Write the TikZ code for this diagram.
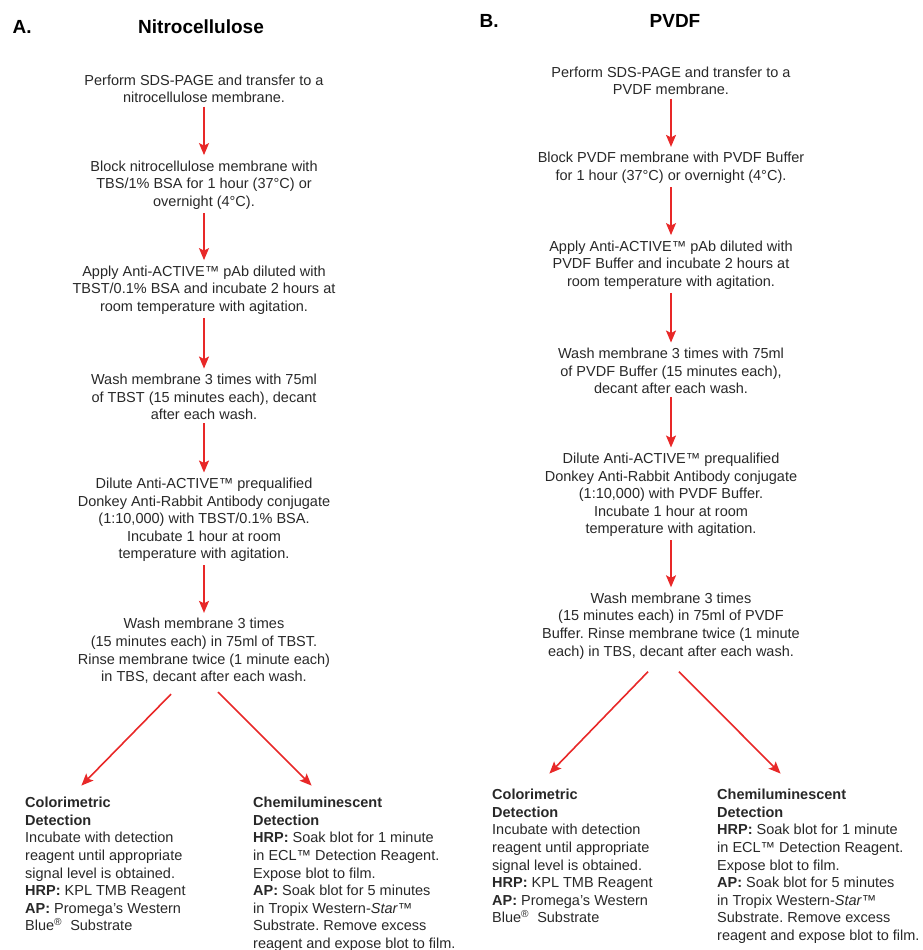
\documentclass[tikz,border=0pt]{standalone}
\usepackage{fontspec}
\setmainfont{Liberation Sans}
\usepackage{tikz}
\usepackage{xcolor}
\usetikzlibrary{arrows.meta}
\definecolor{arrowred}{RGB}{232, 40, 40}
\definecolor{bodygray}{RGB}{40, 40, 40}
\frenchspacing

\begin{document}
\begin{tikzpicture}[x=1pt, y=-1pt,
    stage/.style={align=center, text=bodygray, font=\fontsize{14.5}{17.6}\selectfont},
    detect/.style={align=left, anchor=north west, inner sep=0pt, text=bodygray, font=\fontsize{14.5}{17.6}\selectfont},
    head/.style={font=\fontsize{19}{22}\selectfont\bfseries},
    flow/.style={-{Stealth[length=12pt, width=10pt, inset=2.5pt]}, line width=1.6pt, draw=arrowred, shorten >=2pt}]
    \useasboundingbox (0,0) rectangle (922,950);

    % A. nitrocellulose
    \node[head, anchor=west] (hA) at (9,27) {A.};
    \node[head] (hN) at (201,27) {Nitrocellulose};
    \node[stage] (n1) at (204,89) {Perform SDS-PAGE and transfer to a\\ nitrocellulose membrane.};
    \node[stage] (n2) at (204,185) {Block nitrocellulose membrane with\\ TBS/1\% BSA for 1 hour (37°C) or\\ overnight (4°C).};
    \node[stage] (n3) at (204,290) {Apply Anti-ACTIVE™ pAb diluted with\\ TBST/0.1\% BSA and incubate 2 hours at\\ room temperature with agitation.};
    \node[stage] (n4) at (204,397) {Wash membrane 3 times with 75ml\\ of TBST (15 minutes each), decant\\ after each wash.};
    \node[stage] (n5) at (204,520) {Dilute Anti-ACTIVE™ prequalified\\ Donkey Anti-Rabbit Antibody conjugate\\ (1:10,000) with TBST/0.1\% BSA.\\ Incubate 1 hour at room\\ temperature with agitation.};
    \node[stage] (n6) at (204,651) {Wash membrane 3 times\\ (15 minutes each) in 75ml of TBST.\\ Rinse membrane twice (1 minute each)\\ in TBS, decant after each wash.};
    \node[detect] (ncol) at (25,797) {\textbf{Colorimetric}\\ \textbf{Detection}\\ Incubate with detection\\ reagent until appropriate\\ signal level is obtained.\\ \textbf{HRP:} KPL TMB Reagent\\ \textbf{AP:} Promega's Western\\ Blue\textsuperscript{®}\ \ Substrate};
    \node[detect] (nchem) at (253,797) {\textbf{Chemiluminescent}\\ \textbf{Detection}\\ \textbf{HRP:} Soak blot for 1 minute\\ in ECL™ Detection Reagent.\\ Expose blot to film.\\ \textbf{AP:} Soak blot for 5 minutes\\ in Tropix Western-\textit{Star}™\\ Substrate. Remove excess\\ reagent and expose blot to film.};

    \draw[flow] (n1) -- (n2);
    \draw[flow] (n2) -- (n3);
    \draw[flow] (n3) -- (n4);
    \draw[flow] (n4) -- (n5);
    \draw[flow] (n5) -- (n6);
    \draw[flow] ([shift={(-33,7)}]n6.south) -- ([shift={(55,-10)}]ncol.north west);
    \draw[flow] ([shift={(14,5)}]n6.south) -- ([shift={(60,-10)}]nchem.north west);

    % B. PVDF
    \node[head, anchor=west] (hB) at (476,21) {B.};
    \node[head] (hP) at (675,21) {PVDF};
    \node[stage] (p1) at (671,81) {Perform SDS-PAGE and transfer to a\\ PVDF membrane.};
    \node[stage] (p2) at (671,168) {Block PVDF membrane with PVDF Buffer\\ for 1 hour (37°C) or overnight (4°C).};
    \node[stage] (p3) at (671,265) {Apply Anti-ACTIVE™ pAb diluted with\\ PVDF Buffer and incubate 2 hours at\\ room temperature with agitation.};
    \node[stage] (p4) at (671,371) {Wash membrane 3 times with 75ml\\ of PVDF Buffer (15 minutes each),\\ decant after each wash.};
    \node[stage] (p5) at (671,495) {Dilute Anti-ACTIVE™ prequalified\\ Donkey Anti-Rabbit Antibody conjugate\\ (1:10,000) with PVDF Buffer.\\ Incubate 1 hour at room\\ temperature with agitation.};
    \node[stage] (p6) at (671,626) {Wash membrane 3 times\\ (15 minutes each) in 75ml of PVDF\\ Buffer. Rinse membrane twice (1 minute\\ each) in TBS, decant after each wash.};
    \node[detect] (pcol) at (492,789) {\textbf{Colorimetric}\\ \textbf{Detection}\\ Incubate with detection\\ reagent until appropriate\\ signal level is obtained.\\ \textbf{HRP:} KPL TMB Reagent\\ \textbf{AP:} Promega's Western\\ Blue\textsuperscript{®}\ \ Substrate};
    \node[detect] (pchem) at (717,789) {\textbf{Chemiluminescent}\\ \textbf{Detection}\\ \textbf{HRP:} Soak blot for 1 minute\\ in ECL™ Detection Reagent.\\ Expose blot to film.\\ \textbf{AP:} Soak blot for 5 minutes\\ in Tropix Western-\textit{Star}™\\ Substrate. Remove excess\\ reagent and expose blot to film.};

    \draw[flow] (p1) -- (p2);
    \draw[flow] (p2) -- (p3);
    \draw[flow] (p3) -- (p4);
    \draw[flow] (p4) -- (p5);
    \draw[flow] (p5) -- (p6);
    \draw[flow] ([shift={(-23,9)}]p6.south) -- ([shift={(56,-14)}]pcol.north west);
    \draw[flow] ([shift={(8,9)}]p6.south) -- ([shift={(65,-14)}]pchem.north west);
\end{tikzpicture}
\end{document}
